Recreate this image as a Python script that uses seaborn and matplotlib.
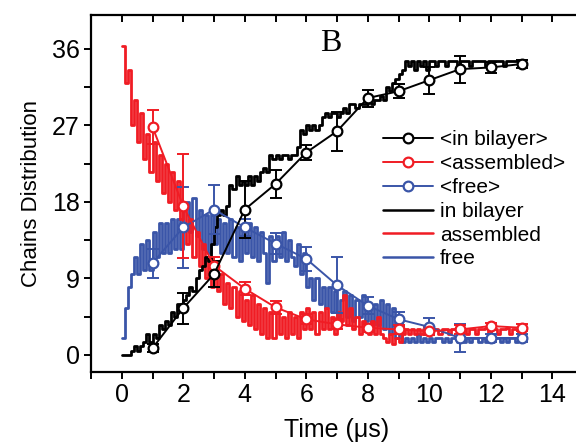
import numpy as np
import pandas as pd
import matplotlib
matplotlib.use("Agg")
import matplotlib.pyplot as plt
from matplotlib.lines import Line2D
from matplotlib.ticker import MultipleLocator
import seaborn as sns

# ---------------- data ----------------
time_step = np.round(np.arange(131) * 0.1, 1)  # 0.0 ... 13.0 us sampling grid

in_bilayer = [
    0, 0, 0, 0.5, 1, 0.5, 1, 1.5, 2.5, 1.5,
    2.5, 2, 3.5, 3, 4, 3.5, 5, 4.5, 6, 5.5,
    6.5, 7, 8, 7.5, 9, 10, 10.5, 11.5, 11, 13,
    15, 16.5, 17, 16.5, 17.5, 20, 19.5, 21, 20, 20.5,
    20, 21, 20, 21, 20.5, 21.5, 22, 21.5, 23.5, 23,
    23.5, 23, 23.5, 23.5, 23, 23.5, 23.5, 24.5, 26.5, 26,
    27, 26.5, 27, 26.5, 27, 28, 28.5, 28, 28.5, 28.5,
    28, 28.5, 29, 28.5, 29.5, 29.5, 29, 29.5, 29.5, 29.5,
    30, 29.5, 30, 30, 30.5, 30, 31.5, 31, 32, 32.5,
    33, 33.5, 34.5, 34, 34.5, 33.5, 34.5, 34, 34.5, 33.5,
    34.5, 34.5, 34, 34.5, 34.5, 34, 34.5, 34.5, 34.5, 34,
    34.5, 34.5, 34.5, 34, 34.5, 34.5, 34.5, 34.5, 34, 34.5,
    34.5, 34.5, 34.5, 34.5, 34, 34.5, 34.5, 34.5, 34.5, 34.5,
    34.5,
]
assembled = [
    36.3, 32, 33.5, 27, 30, 25, 28.5, 23, 26, 21.5,
    25, 20.5, 23.5, 19, 22.5, 18, 21.5, 17, 20.5, 16,
    17, 13, 16, 11.5, 14.5, 10.5, 13, 9, 11.5, 8,
    10.5, 7.5, 9.5, 6, 8.5, 5.5, 8, 4.5, 7.5, 4,
    6.5, 3.5, 7, 3, 6, 2.5, 5.5, 2, 5, 2,
    5, 2.5, 4.5, 2, 5, 2.5, 4.5, 2, 5, 3,
    5.5, 3, 5, 2.5, 5, 3, 5.5, 3, 4.5, 2.5,
    5, 4, 7, 3.5, 5.5, 3, 4.5, 2.5, 4, 3.5,
    2.5, 4, 2.5, 4.5, 2.5, 2, 1.5, 2.5, 1.3, 2,
    1.5, 2.5, 3, 2.5, 3, 2.5, 3, 2.5, 3, 3,
    2.5, 3, 3, 2.5, 3, 3, 2.5, 3, 3, 2.5,
    3, 3, 2.5, 3, 3, 2.5, 3, 3, 3.2, 2.5,
    3, 3, 2.5, 3, 3, 3.2, 2.5, 3, 3, 2.5,
    3,
]
free = [
    2, 5.5, 8, 9.5, 11.5, 9.5, 13, 10, 13.5, 10,
    14.5, 11.5, 15.5, 12, 15.5, 12, 16, 12.5, 16, 12.5,
    17, 18, 14.5, 18.5, 14, 17, 12.5, 16.5, 12, 16.5,
    13, 16, 12, 15.5, 12, 16, 11.5, 15, 11, 15,
    12, 15.5, 11.5, 15, 11, 14.5, 12, 8.5, 14, 11,
    14, 11.5, 14.5, 11, 13.5, 11.5, 10.5, 13, 9.5, 12,
    8, 9, 6.5, 9, 6, 8, 5.5, 8, 5, 7.5,
    4.5, 6.5, 7.5, 4.5, 7, 4, 6.5, 4.5, 7, 4,
    6, 3.5, 6, 3.5, 6.5, 3, 6, 2.5, 5.5, 2,
    4.5, 1.5, 2, 1.5, 2, 1.5, 2.5, 1.5, 2, 1.5,
    2, 1.5, 2, 2, 1.5, 2, 1.5, 2, 2, 1.5,
    2, 1.5, 2, 1.5, 2, 2, 1.5, 2, 1.5, 2,
    1.5, 2, 2, 1.5, 2, 1.5, 2, 2, 1.5, 2,
    1.5,
]

time_avg = [1, 2, 3, 4, 5, 6, 7, 8, 9, 10, 11, 12, 13]
in_bilayer_avg = [0.8, 5.5, 9.5, 17.1, 20.1, 23.8, 26.3, 30.2, 31.0, 32.3, 33.6, 33.8, 34.2]
in_bilayer_err = [0.5, 1.8, 1.5, 3.3, 1.7, 0.9, 2.3, 1.0, 0.8, 1.6, 1.6, 0.6, 0.5]
assembled_avg = [26.8, 17.5, 10.5, 7.8, 5.6, 4.2, 3.6, 3.2, 3.0, 2.8, 3.0, 3.4, 3.2]
assembled_err = [2.0, 6.1, 1.0, 0.8, 0.8, 0.6, 0.6, 0.5, 0.5, 0.5, 0.5, 0.4, 0.4]
free_avg = [10.8, 15.0, 17.1, 15.0, 13.1, 11.3, 8.2, 5.8, 4.2, 3.3, 2.0, 2.0, 2.0]
free_err = [1.7, 4.8, 2.9, 1.0, 1.2, 1.4, 3.3, 1.0, 0.8, 1.0, 1.6, 0.5, 0.5]

x_ticks = [0, 2, 4, 6, 8, 10, 12, 14]
y_ticks = [0, 9, 18, 27, 36]

BLACK = "#000000"
RED = "#f01c24"
BLUE = "#3a55a8"

# ---------------- figure ----------------
sns.set_theme(style="ticks")
plt.rcParams["font.family"] = ["Liberation Sans", "DejaVu Sans"]
plt.rcParams.update({"text.color": "black", "axes.labelcolor": "black",
                     "xtick.color": "black", "ytick.color": "black",
                     "axes.edgecolor": "black"})

fig = plt.figure(figsize=(5.76, 4.47), dpi=100)
ax = fig.add_axes([91 / 576, 1 - 372 / 447, (583 - 91) / 576, (372 - 14.7) / 447])

df_step = pd.DataFrame({"t": time_step, "bil": in_bilayer, "asm": assembled, "free": free})

sns.lineplot(data=df_step, x="t", y="free", ax=ax, color=BLUE, lw=2.0,
             drawstyle="steps-post", estimator=None, sort=False, legend=False)
sns.lineplot(data=df_step, x="t", y="asm", ax=ax, color=RED, lw=2.0,
             drawstyle="steps-post", estimator=None, sort=False, legend=False)
sns.lineplot(data=df_step, x="t", y="bil", ax=ax, color=BLACK, lw=2.0,
             drawstyle="steps-post", estimator=None, sort=False, legend=False)

for avg, err, col in [(free_avg, free_err, BLUE), (assembled_avg, assembled_err, RED),
                      (in_bilayer_avg, in_bilayer_err, BLACK)]:
    ax.errorbar(time_avg, avg, yerr=err, fmt="none", ecolor=col, elinewidth=1.4,
                capsize=4, capthick=1.4, zorder=4)
    sns.lineplot(x=time_avg, y=avg, ax=ax, color=col, lw=1.4, marker="o",
                 markersize=7, markerfacecolor="white", markeredgecolor=col,
                 markeredgewidth=1.6, estimator=None, sort=False, legend=False, zorder=5)

ax.set_xlim(-1, 15)
ax.set_ylim(-2, 40)
ax.set_xticks(x_ticks)
ax.set_yticks(y_ticks)
ax.xaxis.set_minor_locator(MultipleLocator(1))
ax.yaxis.set_minor_locator(MultipleLocator(4.5))

ax.tick_params(axis="both", which="both", top=True, right=True, width=1.4,
               color="black", labelcolor="black")
ax.tick_params(axis="both", which="major", length=5, labelsize=18, pad=3)
ax.tick_params(axis="both", which="minor", length=5)
ax.tick_params(axis="x", which="both", direction="out")
ax.tick_params(axis="y", which="both", direction="out")
# top/right ticks point inward
for tk in ax.xaxis.get_major_ticks() + ax.xaxis.get_minor_ticks():
    tk.tick2line.set_marker(matplotlib.lines.TICKDOWN)
for tk in ax.yaxis.get_major_ticks() + ax.yaxis.get_minor_ticks():
    tk.tick2line.set_marker(matplotlib.lines.TICKLEFT)

for sp in ax.spines.values():
    sp.set_linewidth(1.6)
    sp.set_color("black")

ax.set_xlabel("Time (μs)", fontsize=18, color="black")
ax.set_ylabel("Chains Distribution", fontsize=16, color="black")
ax.xaxis.set_label_coords(0.5, -0.13)
ax.yaxis.set_label_coords(-0.10, 0.5)

ax.text(0.487, 0.92, "B", transform=ax.transAxes, fontsize=23, color="black",
        family=["Liberation Serif", "DejaVu Serif"], ha="center", va="center")

handles = [
    Line2D([], [], color=BLACK, lw=1.4, marker="o", markersize=7,
           markerfacecolor="white", markeredgewidth=1.6),
    Line2D([], [], color=RED, lw=1.4, marker="o", markersize=7,
           markerfacecolor="white", markeredgewidth=1.6),
    Line2D([], [], color=BLUE, lw=1.4, marker="o", markersize=7,
           markerfacecolor="white", markeredgewidth=1.6),
    Line2D([], [], color=BLACK, lw=1.8),
    Line2D([], [], color=RED, lw=1.8),
    Line2D([], [], color=BLUE, lw=1.8),
]
labels = ["<in bilayer>", "<assembled>", "<free>", "in bilayer", "assembled", "free"]
leg = ax.legend(handles, labels, loc="upper left", bbox_to_anchor=(0.593, 0.676),
                frameon=False, fontsize=15, handlelength=2.4, handletextpad=0.35,
                labelspacing=0.23, borderpad=0, borderaxespad=0)
for txt in leg.get_texts():
    txt.set_color("black")

fig.savefig("out.png", dpi=100)
